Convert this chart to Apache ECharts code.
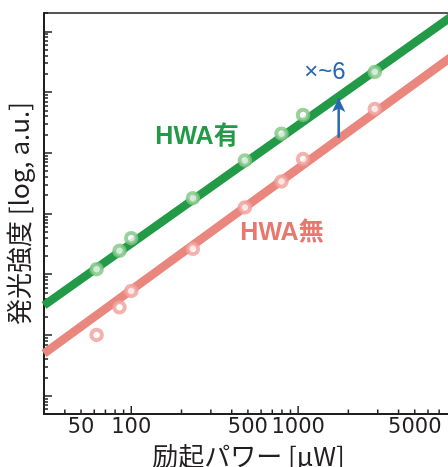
<!DOCTYPE html>
<html>
<head>
<meta charset="utf-8">
<script src="https://cdn.jsdelivr.net/npm/echarts@6/dist/echarts.min.js"></script>
<style>
  html, body { margin: 0; padding: 0; background: #fff; }
  #chart { width: 448px; height: 467px; }
</style>
</head>
<body>
<div id="chart"></div>
<script>
// Excitation power [µW] of each measurement
const powerUW = [62, 85, 100, 234, 480, 795, 1070, 2880];
// Emission intensity [a.u.] with HWA
const intensityWith = [121, 243, 393, 1790, 7470, 20600, 41900, 214000];
// Emission intensity [a.u.] without HWA
const intensityWithout = [10.0, 28.6, 53, 262, 1256, 3370, 7880, 52600];

// Fitted power-law lines, given by their end points
const fitPower = [30, 10000];
const fitWith = [30.7, 2520000];
const fitWithout = [4.96, 551000];

// Enhancement arrow (power, intensity from -> to)
const arrowPower = 1750;
const arrowFrom = 17700;
const arrowTo = 80000;

// Axis ranges and ticks (raw units, drawn on log10 scales)
const xRange = [30, 10000];
const yRange = [0.5, 2000000];
const xMajorTicks = [100, 1000, 10000];
const xMinorTicks = [40, 50, 60, 70, 80, 90, 200, 300, 400, 500, 600, 700, 800, 900,
                     2000, 3000, 4000, 5000, 6000, 7000, 8000, 9000];
const xTickLabels = [50, 100, 500, 1000, 5000];
const yMajorTicks = [1, 10, 100, 1000, 10000, 100000, 1000000];
const yDecades = [0.1, 1, 10, 100, 1000, 10000, 100000, 1000000];
const yMultipliers = [2, 3, 4, 5, 6, 7, 8, 9];

const lg = Math.log10;
const yMinorTicks = [];
yDecades.forEach(d => yMultipliers.forEach(m => {
  const v = m * d;
  if (v >= yRange[0] && v <= yRange[1]) yMinorTicks.push(v);
}));

const pairs = (xs, ys) => xs.map((x, i) => [lg(x), lg(ys[i])]);

const INK = '#231f20';
const GREEN = '#239a47';
const GREEN_RING = '#80c582';
const RED = '#e9867d';
const RED_RING = '#f09f98';
const BLUE = '#2867b2';

const baseAxis = {
  type: 'value',
  splitLine: { show: false },
  axisLine: { show: false, onZero: false },
  axisLabel: { show: false },
  axisTick: { show: false }
};

// Power-axis tick marks: [log10 value, 1 for decade / 0 for minor]
const xTickMarks = xMajorTicks.map(v => [lg(v), 1]).concat(xMinorTicks.map(v => [lg(v), 0]));

const chart = echarts.init(document.getElementById('chart'), null, { renderer: 'canvas' });
chart.setOption({
  animation: false,
  backgroundColor: '#fff',
  grid: {
    left: 44, right: -17, top: 13, bottom: 53,
    show: true, borderColor: INK, borderWidth: 1.5,
    outerBoundsMode: 'none'
  },
  xAxis: [
    Object.assign({}, baseAxis, {
      min: lg(xRange[0]), max: lg(xRange[1]),
      position: 'bottom',
      axisLine: { show: true, onZero: false, lineStyle: { color: INK, width: 2 } },
      axisLabel: {
        show: true, margin: 3,
        customValues: xTickLabels.map(lg),
        formatter: v => String(Math.round(Math.pow(10, v))),
        fontFamily: 'DejaVu Sans', fontSize: 21, color: INK
      },
      name: '励起パワー [µW]',
      nameLocation: 'middle', nameGap: 25,
      nameTextStyle: {
        fontFamily: 'Noto Sans CJK JP', fontSize: 26, color: INK,
        padding: [0, 12, 0, 0]
      }
    })
  ],
  yAxis: [
    Object.assign({}, baseAxis, {
      min: lg(yRange[0]), max: lg(yRange[1]),
      position: 'left',
      axisLine: { show: true, onZero: false, lineStyle: { color: INK, width: 2 } },
      axisTick: {
        show: true, inside: true, length: 8,
        customValues: yMajorTicks.map(lg),
        lineStyle: { color: INK, width: 1.5 }
      },
      name: '発光強度 [log, a.u.]',
      nameLocation: 'middle', nameGap: 12,
      nameTextStyle: { fontFamily: 'Noto Sans CJK JP', fontSize: 26, color: INK }
    }),
    Object.assign({}, baseAxis, {
      min: lg(yRange[0]), max: lg(yRange[1]),
      position: 'left',
      axisTick: {
        show: true, inside: true, length: 4,
        customValues: yMinorTicks.map(lg),
        lineStyle: { color: INK, width: 1.5 }
      }
    })
  ],
  series: [
    {
      // tick marks along the power axis, pointing up into the plot
      name: 'power-ticks', type: 'custom', silent: true, clip: false, z: 5,
      data: xTickMarks,
      renderItem: (params, api) => {
        const p = api.coord([api.value(0), lg(yRange[0])]);
        const len = api.value(1) ? 8 : 4.5;
        return {
          type: 'line',
          shape: { x1: p[0], y1: p[1], x2: p[0], y2: p[1] - len },
          style: { stroke: INK, lineWidth: 1.5 }
        };
      }
    },
    {
      name: 'fit-with', type: 'line', clip: true, silent: true,
      data: pairs(fitPower, fitWith), showSymbol: false, symbol: 'none',
      lineStyle: { color: GREEN, width: 8.5, cap: 'butt' }, z: 2
    },
    {
      name: 'fit-without', type: 'line', clip: true, silent: true,
      data: pairs(fitPower, fitWithout), showSymbol: false, symbol: 'none',
      lineStyle: { color: RED, width: 8.5, cap: 'butt' }, z: 2
    },
    {
      name: 'HWA有', type: 'scatter', data: pairs(powerUW, intensityWith),
      symbol: 'circle', symbolSize: 10.5,
      itemStyle: { color: '#fff', borderColor: GREEN_RING, borderWidth: 4 }, z: 3
    },
    {
      name: 'HWA無', type: 'scatter', data: pairs(powerUW, intensityWithout),
      symbol: 'circle', symbolSize: 10.5,
      itemStyle: { color: '#fff', borderColor: RED_RING, borderWidth: 4 }, z: 3
    },
    {
      name: 'enhancement', type: 'line', silent: true,
      data: [
        { value: [lg(arrowPower), lg(arrowFrom)], symbol: 'none' },
        { value: [lg(arrowPower), lg(arrowTo)], symbol: 'arrow', symbolSize: [10, 14] }
      ],
      showSymbol: true,
      itemStyle: { color: BLUE },
      lineStyle: { color: BLUE, width: 2.5 }, z: 4
    }
  ],
  graphic: [
    {
      type: 'text', x: 197, y: 137, z: 10,
      style: {
        text: 'HWA有', fill: GREEN, fontSize: 25, fontWeight: 'bold',
        fontFamily: 'Liberation Sans, Noto Sans CJK JP',
        textAlign: 'center', textVerticalAlign: 'middle'
      }
    },
    {
      type: 'text', x: 282, y: 233, z: 10,
      style: {
        text: 'HWA無', fill: '#e8776d', fontSize: 25, fontWeight: 'bold',
        fontFamily: 'Liberation Sans, Noto Sans CJK JP',
        textAlign: 'center', textVerticalAlign: 'middle'
      }
    },
    {
      type: 'text', x: 325, y: 72, z: 10,
      style: {
        text: '×~6', fill: BLUE, fontSize: 24,
        fontFamily: 'Liberation Sans',
        textAlign: 'center', textVerticalAlign: 'middle'
      }
    }
  ]
});
</script>
</body>
</html>
